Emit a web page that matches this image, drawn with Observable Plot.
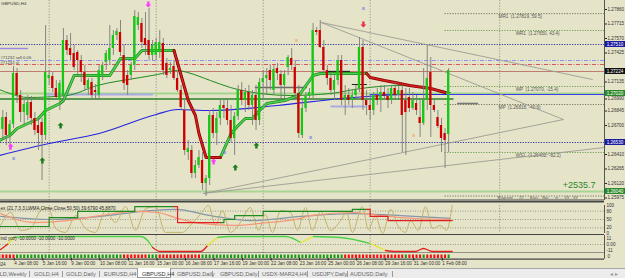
<!DOCTYPE html>
<html>
<head>
<meta charset="utf-8">
<script src="https://cdn.jsdelivr.net/npm/d3@7"></script>
<script src="https://cdn.jsdelivr.net/npm/@observablehq/plot@0.6"></script>
<style>
html,body{margin:0;padding:0;background:#e6e4c8;}
#wrap{width:625px;height:278px;overflow:hidden;position:relative;background:#e6e4c8;}
#wrap svg{display:block;}
#tabs{position:absolute;left:0;top:268px;width:625px;height:10px;background:#ececec;border-top:1px solid #a8a8a8;box-sizing:border-box;font:5.6px "Liberation Sans",Arial,sans-serif;color:#666;}
#tabs span{position:absolute;top:1.5px;white-space:nowrap;}
#tabs .sep{position:absolute;top:1.5px;width:1px;height:6px;background:#9a9a9a;}
#tabs .act{position:absolute;top:-1px;height:10px;background:#fff;border:1px solid #9a9a9a;border-top:none;box-sizing:border-box;}
</style>
</head>
<body>
<div id="wrap"><div id="charts"></div><div id="tabs"></div></div>
<script>
const BG = "#e6e4c8";
const FONT = "Liberation Sans, Arial, sans-serif";
const X0 = -3.645, X1 = 165.70;

// ---- candles (H4 GBPUSD), index 0 = 4 Jan 08:00 ----
const barIndex = [-4,-3,-2,-1,0,1,2,3,4,5,6,7,8,9,10,11,12,13,14,15,16,17,18,19,20,21,22,23,24,25,26,27,28,29,30,31,32,33,34,35,36,37,38,39,40,41,42,43,44,45,46,47,48,49,50,51,52,53,54,55,56,57,58,59,60,61,62,63,64,65,66,67,68,69,70,71,72,73,74,75,76,77,78,79,80,81,82,83,84,85,86,87,88,89,90,91,92,93,94,95,96,97,98,99,100,101,102,103,104,105,106,107,108,109,110,111,112,113,114,115,116,117,118,119,120,121,122];
const opens = [1.2657,1.2666,1.2678,1.2660,1.2671,1.2722,1.2700,1.2683,1.2680,1.2693,1.2677,1.2670,1.2673,1.2660,1.2717,1.2719,1.2707,1.2695,1.2700,1.2755,1.2747,1.2742,1.2743,1.2735,1.2723,1.2707,1.2713,1.2705,1.2700,1.2720,1.2733,1.2735,1.2747,1.2760,1.2763,1.2740,1.2720,1.2720,1.2730,1.2770,1.2772,1.2757,1.2755,1.2740,1.2740,1.2743,1.2752,1.2732,1.2725,1.2729,1.2717,1.2705,1.2685,1.2643,1.2645,1.2622,1.2630,1.2635,1.2612,1.2617,1.2680,1.2662,1.2677,1.2690,1.2687,1.2675,1.2657,1.2679,1.2705,1.2695,1.2703,1.2690,1.2700,1.2675,1.2713,1.2717,1.2725,1.2705,1.2727,1.2721,1.2710,1.2728,1.2737,1.2728,1.2702,1.2660,1.2687,1.2699,1.2700,1.2765,1.2765,1.2748,1.2725,1.2717,1.2705,1.2715,1.2735,1.2695,1.2700,1.2695,1.2700,1.2707,1.2748,1.2695,1.2690,1.2685,1.2700,1.2695,1.2703,1.2699,1.2695,1.2707,1.2700,1.2705,1.2695,1.2698,1.2687,1.2692,1.2678,1.2672,1.2695,1.2723,1.2690,1.2678,1.2670,1.2662,1.2661];
const highs = [1.2671,1.2685,1.2683,1.2675,1.2729,1.2727,1.2705,1.2695,1.2700,1.2699,1.2683,1.2677,1.2677,1.2770,1.2725,1.2723,1.2715,1.2715,1.2767,1.2760,1.2762,1.2750,1.2745,1.2740,1.2730,1.2717,1.2717,1.2711,1.2730,1.2733,1.2745,1.2770,1.2765,1.2767,1.2775,1.2750,1.2725,1.2733,1.2785,1.2783,1.2777,1.2783,1.2787,1.2755,1.2757,1.2765,1.2757,1.2737,1.2733,1.2735,1.2723,1.2710,1.2695,1.2655,1.2650,1.2635,1.2645,1.2643,1.2620,1.2685,1.2687,1.2683,1.2695,1.2697,1.2695,1.2690,1.2683,1.2710,1.2713,1.2707,1.2710,1.2705,1.2710,1.2717,1.2725,1.2727,1.2730,1.2730,1.2732,1.2725,1.2725,1.2740,1.2747,1.2735,1.2710,1.2695,1.2703,1.2707,1.2772,1.2768,1.2775,1.2755,1.2730,1.2723,1.2720,1.2740,1.2740,1.2710,1.2707,1.2705,1.2710,1.2758,1.2755,1.2705,1.2700,1.2703,1.2707,1.2710,1.2710,1.2707,1.2709,1.2713,1.2710,1.2710,1.2707,1.2707,1.2703,1.2700,1.2695,1.2727,1.2751,1.2738,1.2695,1.2685,1.2677,1.2667,1.2727];
const lows = [1.2632,1.2655,1.2650,1.2645,1.2667,1.2692,1.2673,1.2670,1.2675,1.2670,1.2660,1.2645,1.2615,1.2655,1.2710,1.2703,1.2695,1.2685,1.2695,1.2740,1.2735,1.2725,1.2718,1.2713,1.2705,1.2700,1.2695,1.2695,1.2695,1.2715,1.2725,1.2730,1.2740,1.2755,1.2739,1.2705,1.2700,1.2715,1.2725,1.2765,1.2747,1.2740,1.2735,1.2735,1.2735,1.2737,1.2720,1.2717,1.2721,1.2715,1.2703,1.2685,1.2640,1.2635,1.2617,1.2617,1.2627,1.2605,1.2599,1.2610,1.2657,1.2650,1.2670,1.2677,1.2670,1.2653,1.2640,1.2675,1.2690,1.2683,1.2685,1.2670,1.2665,1.2670,1.2695,1.2700,1.2705,1.2700,1.2715,1.2695,1.2695,1.2720,1.2725,1.2695,1.2657,1.2657,1.2683,1.2695,1.2695,1.2760,1.2747,1.2723,1.2710,1.2700,1.2695,1.2710,1.2690,1.2680,1.2690,1.2687,1.2695,1.2703,1.2685,1.2680,1.2675,1.2680,1.2690,1.2683,1.2695,1.2687,1.2691,1.2695,1.2697,1.2643,1.2640,1.2683,1.2685,1.2680,1.2658,1.2670,1.2685,1.2658,1.2683,1.2667,1.2643,1.2627,1.2643];
const closes = [1.2666,1.2678,1.2660,1.2671,1.2722,1.2700,1.2683,1.2691,1.2693,1.2677,1.2665,1.2662,1.2660,1.2723,1.2720,1.2707,1.2698,1.2712,1.2755,1.2745,1.2740,1.2728,1.2735,1.2723,1.2710,1.2715,1.2700,1.2703,1.2725,1.2730,1.2742,1.2747,1.2760,1.2764,1.2743,1.2712,1.2710,1.2730,1.2779,1.2778,1.2753,1.2750,1.2740,1.2750,1.2753,1.2753,1.2725,1.2720,1.2727,1.2717,1.2705,1.2688,1.2645,1.2647,1.2622,1.2630,1.2638,1.2612,1.2617,1.2680,1.2662,1.2677,1.2690,1.2687,1.2675,1.2657,1.2679,1.2705,1.2695,1.2703,1.2690,1.2700,1.2675,1.2713,1.2717,1.2720,1.2715,1.2726,1.2722,1.2710,1.2721,1.2738,1.2730,1.2702,1.2662,1.2687,1.2699,1.2703,1.2765,1.2763,1.2748,1.2725,1.2717,1.2705,1.2715,1.2735,1.2695,1.2700,1.2695,1.2700,1.2705,1.2748,1.2695,1.2690,1.2685,1.2700,1.2695,1.2703,1.2699,1.2695,1.2707,1.2700,1.2705,1.2680,1.2683,1.2687,1.2695,1.2685,1.2672,1.2695,1.2717,1.2690,1.2685,1.2669,1.2657,1.2655,1.2725];

// ---- price axis ----
const priceTicks = [1.27860,1.27715,1.27570,1.27425,1.27135,1.26845,1.26700,1.26410,1.26265,1.26120,1.25975];
const priceTicksLow = [1.26990];
const priceBoxes = [
  {p:1.2751, t:"1.27510", fill:"#1c1ca0"},
  {p:1.2724, t:"1.27224", fill:"#111111"},
  {p:1.2702, t:"1.27020", fill:"#2a8a2a"},
  {p:1.2653, t:"1.26530", fill:"#1c1ca0"},
  {p:1.2604, t:"1.26040", fill:"#2a8a2a"}
];

// ---- time axis ----
const timeTicks = [0,8,16,24,32,40,48,56,64,72,80,88,96,104,112,120];
const timeLabels = ["4 Jan 08:00","5 Jan 16:00","9 Jan 00:00","10 Jan 08:00","11 Jan 16:00","15 Jan 00:00","16 Jan 08:00","17 Jan 16:00","19 Jan 00:00","22 Jan 08:00","23 Jan 16:00","25 Jan 00:00","26 Jan 08:00","29 Jan 16:00","31 Jan 00:00","1 Feb 08:00"];
const separators = [10,40,70,100,136.3];

// ---- levels ----
const pivots = [
  {p:1.27819, t:"MR1  (1.27819, 59.5)", c:"#6a6a52", lx:136},
  {p:1.27650, t:"WR1  (1.27650, 43.4)", c:"#5c9a40", lx:140.8},
  {p:1.27090, t:"WP  (1.27070, -15.4)", c:"#5c9a40", lx:140.8},
  {p:1.26910, t:"MP  (1.26818, -40.6)", c:"#6a6a52", lx:136},
  {p:1.26430, t:"WS1  (1.26402, -82.2)", c:"#5c9a40", lx:140.8}
];

// ---- indicator lines on price ----
const blueMA = [[-4,1.2640],[10,1.2652],[24,1.2662],[40,1.2681],[46,1.2686],[55,1.2685],[74,1.2690],[92,1.2697],[111,1.2701],[122,1.2701]];
const greenMA = [[-4,1.2706],[-1,1.2702],[4,1.2698],[15,1.2700],[23.5,1.2710],[35.6,1.2718],[40.4,1.2721],[46,1.2725],[48.8,1.2723],[55.2,1.2715],[60.8,1.2708],[69.2,1.2702],[77.7,1.2700],[88.9,1.2702],[97.3,1.2707],[108.5,1.2710],[122.5,1.2703]];
const trendUp1 = [[-4,1.2655],[-1,1.2660],[1,1.2667],[7,1.2677],[9,1.2685],[13,1.2692],[14,1.2695],[17,1.2720],[27,1.2720],[30,1.2737],[34,1.2737],[36,1.2745],[45,1.2745]];
const trendDn1 = [[45,1.2745],[49,1.2695],[51,1.2680],[52,1.2662],[54,1.2638],[58,1.2638]];
const trendUp2 = [[58,1.2638],[61,1.2662],[63,1.2670],[65,1.2677],[67,1.2677],[69,1.2685],[71,1.2692],[76,1.2695],[80,1.2700],[84,1.2720],[86,1.2722],[99,1.2722]];
const trendDn2 = [[99,1.2722],[100,1.2718],[104,1.2715],[107,1.2713],[111,1.2710],[117,1.2707],[121,1.2703]];
const triangle = [
  {g:"A",i:86.3,p:1.2773},{g:"A",i:162.3,p:1.2716},
  {g:"B",i:86.3,p:1.2773},{g:"B",i:154.2,p:1.2676},{g:"B",i:53.3,p:1.2602},
  {g:"D",i:53.3,p:1.2602},{g:"D",i:165.7,p:1.2648}
];
const upArrowsGreen = [[13.2,1.2670],[8.1,1.2635],[68.1,1.2650],[62.2,1.2628]];
const upArrowsPink = [[-0.8,1.2649],[56.1,1.2634]];
const downArrows = [{i:37.8,p:1.2791,c:"#ff3cff"},{i:98.1,p:1.2771,c:"#e8304a"}];
const marks3 = [{i:0,p:1.2637,c:"#6a6af0"},{i:59.2,p:1.2643,c:"#6a6af0"},{i:83.3,p:1.2658,c:"#6a6af0"},{i:98.1,p:1.2787,c:"#6a6af0"},{i:79.3,p:1.2755,c:"#f0a060"},{i:112.2,p:1.2660,c:"#f0a060"}];

// ---- oscillator panel (0..100) ----
const khaki = [[-3.6,29],[-0.8,75],[2,11],[4.8,18],[7.6,82],[9.8,93],[11.8,18],[14.6,4],[17.4,64],[20.2,18],[23,4],[25.8,82],[28.6,39],[31.4,96],[34.2,11],[37,89],[39.8,96],[42.6,4],[47.4,4],[49.6,29],[52.4,68],[54.7,100],[56.6,29],[58.6,82],[60.8,4],[63.6,39],[66.4,93],[68.7,11],[70.6,68],[72.6,4],[74.9,82],[77.7,75],[79.6,11],[81.9,93],[83.8,11],[86.1,79],[88.9,11],[91.7,46],[93.4,75],[95,4],[97.8,96],[99.5,14],[101.5,61],[103.5,0],[105.7,86],[107.9,25],[109.9,4],[111.3,46],[113.5,11],[115.5,96],[117.5,18],[119.7,29],[121.4,11],[123,100]];
const salmon = [[-3.6,71],[5.6,39],[15.1,46],[24.4,64],[33.6,79],[40.4,75],[46,54],[52.4,36],[61.7,29],[71.2,39],[80.5,54],[83.3,64],[95.9,75],[100.1,68],[108.5,57],[122.5,50]];
const slate = [[-3.6,61],[10.4,50],[24.4,61],[38.4,82],[45.4,86],[55.2,64],[66.4,46],[80.5,61],[94.5,71],[108.5,64],[122.5,54]];
const stepGreen = [[-4,25],[9,25],[10,57],[17,57],[18,79],[33,79],[34,96],[45,96]];
const stepRed = [[45,96],[46,39],[58,39]];
const stepGreen2 = [[58,39],[59,50],[61,50],[62,64],[69,64],[70,79],[94,79],[95,86],[99,86]];
const stepRed2 = [[99,86],[100,61],[104,61],[105,46],[123,46]];

// ---- trend curve panel ----
const curve = [[-3.6,-9.6],[-1.4,1.9],[0,13.5],[4.8,15.4],[35.6,15.4],[37.6,7.7],[39,-5.8],[41.2,-13.5],[52.4,-13.5],[54.4,-1.9],[57.2,13.5],[60.8,15.4],[76.3,15.4],[80.5,3.8],[84.1,15.4],[91.7,13.5],[100.1,1.9],[104.3,-11.5],[107.1,-13.5],[112.7,-13.5],[114.9,-7.7],[117.5,-13.5],[123,-13.5]];

// ---- histogram direction per bar ----
const histDir = [-1,-1,-1,-1,-1, 1,1,1,1,1,1,1,1,1,1,1,1,1,1,1,1,1,1,1,1,1,1,1,1,1,1,1,1,1,1, -1,-1,-1,-1,-1,-1,-1, 1,1,1, -1,-1,-1,-1,-1,-1,-1,-1,-1,-1,-1,-1, 1,1,1,1,1,1,1,1,1,1,1,1,1,1,1,1,1,1,1,1,1,1,1,1,1,1,1,1,1,1,1,1,1,1,1,1,1,1,1,1, -1,-1,-1,-1,-1,-1,-1,-1,-1,-1,-1,-1,-1,-1,-1,-1,-1,1,-1,-1,-1,-1,1,-1,-1,-1,-1,-1,-1,1];

const tabs = [
  {t:"GOLD,Weekly", x:-9}, {t:"GOLD,H4", x:34}, {t:"GOLD,Daily", x:66}, {t:"EURUSD,H4", x:104},
  {t:"GBPUSD,H4", x:142, active:true}, {t:"GBPUSD,Daily", x:177}, {t:"GBPUSD,Daily", x:220},
  {t:"USDX-MAR24,H4", x:262}, {t:"USDJPY,Daily", x:312}, {t:"AUDUSD,Daily", x:350}
];
const tabSeps = [29,62,99,212,258,307,347,392];

// ================= drawing =================
const candles = barIndex.map((i,k)=>({i,o:opens[k],h:highs[k],l:lows[k],c:closes[k]}));
const pt = a => a.map(([i,v])=>({i,v}));
const style = {background:BG, fontFamily:FONT, fontSize:"5px", color:"#222"};
const sepRule = (data, extra={}) => Plot.ruleX(data, {stroke:"#85857a", strokeDasharray:"1.2,1.6", strokeWidth:0.8, ...extra});

function arrowSymbol(dir){
  return {draw(ctx, size){
    const s = Math.sqrt(size)*0.85, d = dir;
    ctx.moveTo(0,-d*s/2); ctx.lineTo(s/2,0); ctx.lineTo(s/5,0); ctx.lineTo(s/5,d*s/2);
    ctx.lineTo(-s/5,d*s/2); ctx.lineTo(-s/5,0); ctx.lineTo(-s/2,0); ctx.closePath();
  }};
}

const main = Plot.plot({
  width:625, height:200, marginLeft:0, marginRight:21, marginTop:0, marginBottom:0,
  style, x:{domain:[X0,X1], axis:null}, y:{domain:[1.2595,1.2795], axis:null},
  marks:[
    sepRule(separators),
    Plot.ruleY([1.2751,1.2653], {stroke:"#2a2aa0", strokeDasharray:"1.3,1.3", strokeWidth:0.9}),
    Plot.ruleY([1.2747], {x1:X0, x2:4.2, stroke:"#9a88e6", strokeWidth:1.4}),
    Plot.ruleY([1.2735], {stroke:"#8f8ff2", strokeDasharray:"4,1.5,1,1.5", strokeWidth:1}),
    Plot.ruleY([1.2731], {stroke:"#d24848", strokeDasharray:"4,1.5,1,1.5", strokeWidth:0.9}),
    Plot.ruleY([1.2724], {stroke:"#c07a70", strokeWidth:1}),
    Plot.ruleY([1.2702], {stroke:"#a3d48e", strokeWidth:2}),
    Plot.ruleY([1.2701], {x1:100, x2:X1, stroke:"#3c3cf0", strokeWidth:1}),
    Plot.ruleY([1.26965], {x1:X0, x2:123.5, stroke:"#2a802a", strokeWidth:1.4}),
    Plot.ruleY([1.2701], {x1:9, x2:39.2, stroke:"#a9a9e6", strokeWidth:2.2}),
    Plot.ruleY([1.2689], {x1:89, x2:99, stroke:"#a9a9e6", strokeWidth:2.2}),
    Plot.ruleY([1.2604], {stroke:"#a8d496", strokeWidth:2}),
    Plot.ruleY([1.2708], {x1:67.8, x2:82.4, stroke:"#6a6a6a", strokeWidth:1.3}),
    Plot.ruleY([1.2724], {x1:88.3, x2:94.5, stroke:"#222", strokeWidth:1.3}),
    Plot.ruleY([1.2711], {x1:95, x2:99.2, stroke:"#222", strokeWidth:1}),
    Plot.ruleY([1.2692], {x1:124.5, x2:130.4, stroke:"#777", strokeWidth:1.6}),
    Plot.ruleY(pivots, {y:"p", x1:121, x2:X1, stroke:"c", strokeDasharray:"1.2,1.4", strokeWidth:0.9}),
    Plot.text(pivots, {x:"lx", y:"p", text:"t", dy:3.2, textAnchor:"start", fontSize:4.6, fill:"#555"}),
    Plot.line(triangle, {x:"i", y:"p", z:"g", stroke:"#9c9c94", strokeWidth:0.9}),
    Plot.line(pt(blueMA), {x:"i", y:"v", stroke:"#2525e0", strokeWidth:1.2, curve:"monotone-x"}),
    Plot.line(pt(greenMA), {x:"i", y:"v", stroke:"#1f8a1f", strokeWidth:1, curve:"monotone-x"}),
    ...[trendUp1, trendUp2].flatMap(a => [
      Plot.line(pt(a), {x:"i", y:"v", stroke:"#1d8a1d", strokeWidth:3}),
      Plot.line(pt(a), {x:"i", y:"v", stroke:"#4fd24f", strokeWidth:1.5})]),
    ...[trendDn1, trendDn2].flatMap(a => [
      Plot.line(pt(a), {x:"i", y:"v", stroke:"#8a0000", strokeWidth:3}),
      Plot.line(pt(a), {x:"i", y:"v", stroke:"#d42020", strokeWidth:1.5})]),
    Plot.ruleX(candles, {x:"i", y1:"l", y2:"h", stroke:"#7c7c78", strokeWidth:0.9}),
    Plot.rect(candles, {x1:d=>d.i-0.32, x2:d=>d.i+0.32, y1:"o", y2:d=>d.c===d.o?d.c+0.00006:d.c, fill:d=>d.c>=d.o?"#14c814":"#d00000"}),
    Plot.dot(pt(upArrowsGreen), {x:"i", y:"v", symbol:arrowSymbol(1), r:4, fill:"#1a7a1a", stroke:"none"}),
    Plot.dot(pt(upArrowsPink), {x:"i", y:"v", symbol:arrowSymbol(1), r:4, fill:"#ff3cff", stroke:"none"}),
    Plot.dot(downArrows, {x:"i", y:"p", symbol:arrowSymbol(-1), r:4, fill:"c", stroke:"none"}),
    Plot.text(marks3, {x:"i", y:"p", text:()=>"≡", fill:"c", fontSize:5.5}),
    Plot.text(["GBPUSD,H4"], {x:X0, y:1.2792, dx:0.5, textAnchor:"start", fontSize:4.4, fill:"#333"}),
    Plot.text(["#71232 sell 0.06"], {x:X0, y:1.27375, textAnchor:"start", fontSize:4.2, fill:"#444"}),
    Plot.text(["#71232 sl"], {x:X0, y:1.27325, textAnchor:"start", fontSize:4.2, fill:"#444"}),
    Plot.text(["+2535.7"], {x:163.2, y:1.2610, textAnchor:"end", fontSize:9, fill:"#2a8a2a"}),
    Plot.ruleY([1.25995], {x1:121, x2:X1, stroke:"#6a6a52", strokeDasharray:"1.2,1.4", strokeWidth:0.9}),
    Plot.text(["Elapsed - - 22 - - Bars - Bar - - in - - 63 - 63"], {x:135.7, y:1.25978, textAnchor:"start", fontSize:4.2, fill:"#555"}),
    Plot.ruleX([X1], {stroke:"#555", strokeWidth:1}),
    Plot.axisY(priceTicks, {anchor:"right", tickSize:2, tickPadding:1, fontSize:4.6, tickFormat:d=>d.toFixed(5), label:null, fill:"#333"}),
    Plot.axisY(priceTicksLow, {anchor:"right", tickSize:2, tickPadding:1, fontSize:4.6, tickFormat:d=>d.toFixed(5), label:null, fill:"#333", dy:2.5}),
    Plot.rect(priceBoxes, {x1:165.95, x2:171.6, y1:d=>d.p-0.0003, y2:d=>d.p+0.0003, fill:"fill"}),
    Plot.text(priceBoxes, {x:166.3, y:"p", text:"t", textAnchor:"start", fill:"white", fontSize:4.6}),
    Plot.ruleY([1.2595], {stroke:"#444", strokeWidth:2})
  ]
});

const osc = Plot.plot({
  width:625, height:35, marginLeft:0, marginRight:21, marginTop:5, marginBottom:2,
  style, x:{domain:[X0,X1], axis:null}, y:{domain:[0,100], axis:null},
  marks:[
    Plot.ruleY([80,50,20], {stroke:"#7a7a70", strokeDasharray:"1,1.5", strokeWidth:0.7}),
    sepRule(separators),
    Plot.line(pt(slate), {x:"i", y:"v", stroke:"#8496aa", strokeWidth:1.2, curve:"monotone-x"}),
    Plot.line(pt(salmon), {x:"i", y:"v", stroke:"#f7967a", strokeWidth:1.2, curve:"monotone-x"}),
    Plot.line(pt(khaki), {x:"i", y:"v", stroke:"#c2b26a", strokeWidth:1, curve:"monotone-x"}),
    Plot.line(pt(stepGreen), {x:"i", y:"v", stroke:"#1e8c1e", strokeWidth:1.2, curve:"step-after"}),
    Plot.line(pt(stepGreen2), {x:"i", y:"v", stroke:"#1e8c1e", strokeWidth:1.2, curve:"step-after"}),
    Plot.line(pt(stepRed), {x:"i", y:"v", stroke:"#e02020", strokeWidth:1.2, curve:"step-after"}),
    Plot.line(pt(stepRed2), {x:"i", y:"v", stroke:"#e02020", strokeWidth:1.2, curve:"step-after"}),
    Plot.text(["ex (21,7,3,3,LWMA,Close,Close,50,50) 39.6790 45.8870"], {frameAnchor:"top-left", dy:1, fontSize:4.6, fill:"#222"}),
    Plot.ruleX([X1], {stroke:"#555", strokeWidth:1}),
    Plot.axisY([0,20,50,80,100], {anchor:"right", tickSize:0, tickPadding:2, fontSize:4.6, label:null, fill:"#333"}),
    Plot.ruleY([114], {stroke:"#444", strokeWidth:2}),
    Plot.ruleY([-4.5], {stroke:"#444", strokeWidth:1.3})
  ]
});

const curveData = curve.map(([i,v])=>({i,v}));
const trend = Plot.plot({
  width:625, height:18, marginLeft:0, marginRight:21, marginTop:0, marginBottom:0,
  style, x:{domain:[X0,X1], axis:null}, y:{domain:[-17.3,17.3], axis:null},
  marks:[
    Plot.ruleY([0], {stroke:"#7a7a70", strokeDasharray:"1,1.5", strokeWidth:0.7}),
    sepRule(separators.slice(0,4)),
    Plot.line(curveData, {x:"i", y:"v", z:null, stroke:d=>d.v>5?"#4ad24a":d.v<-5?"#e02020":"#e6e62a", strokeWidth:1.3, curve:"monotone-x"}),
    Plot.text(["ind yoz) -10.0000 -10.0000 -10.0000"], {frameAnchor:"top-left", dy:1.2, fontSize:4.6, fill:"#222"}),
    Plot.ruleX([X1], {stroke:"#555", strokeWidth:1}),
    Plot.axisY([11,0,-11], {anchor:"right", tickSize:0, tickPadding:2, fontSize:4.6, label:null, fill:"#333", tickFormat:d=>d===0?"0.00":String(d)}),
    Plot.ruleY([-16.6], {stroke:"#444", strokeWidth:1.3})
  ]
});

const hist = barIndex.map((i,k)=>({i, d:histDir[k]}));
const histo = Plot.plot({
  width:625, height:15, marginLeft:0, marginRight:21, marginTop:1.5, marginBottom:10,
  style, x:{domain:[X0,X1], axis:null}, y:{domain:[0,1], axis:null},
  marks:[
    Plot.ruleX(hist, {x:"i", y1:0, y2:1, stroke:d=>d.d>0?"#1a9a1a":"#f01010", strokeWidth:2.1}),
    Plot.text(["0"], {x:X1, y:0.55, dx:3, textAnchor:"start", fontSize:4.6, fill:"#333"}),
    Plot.ruleX([X1], {y1:-0.2, y2:1.5, stroke:"#555", strokeWidth:1}),
    Plot.ruleY([-0.15], {stroke:"#444", strokeWidth:1.3}),
    Plot.axisX(timeTicks, {anchor:"bottom", tickSize:2.5, tickPadding:0.4, fontSize:4.6, label:null, textAnchor:"start", dx:0.8, fill:"#333", tickFormat:d=>timeLabels[timeTicks.indexOf(d)]}),
    Plot.text(["3 Jan 2024"], {x:-2.2, y:-0.15, dy:5, textAnchor:"end", fontSize:4.6, fill:"#333", lineAnchor:"middle"})
  ]
});

const holder = document.getElementById("charts");
[main, osc, trend, histo].forEach(s => holder.appendChild(s));

const tb = document.getElementById("tabs");
tabs.forEach(t => {
  if (t.active) {
    const a = document.createElement("div");
    a.className = "act"; a.style.left = (t.x-5)+"px"; a.style.width = "34px";
    tb.appendChild(a);
  }
  const s = document.createElement("span");
  s.textContent = t.t; s.style.left = t.x+"px";
  if (t.active) s.style.color = "#333";
  tb.appendChild(s);
});
tabSeps.forEach(x => { const d = document.createElement("div"); d.className="sep"; d.style.left = x+"px"; tb.appendChild(d); });
const ar = document.createElement("span"); ar.textContent = "◂  ▸"; ar.style.left = "610px"; ar.style.color="#999"; tb.appendChild(ar);
</script>
</body>
</html>
